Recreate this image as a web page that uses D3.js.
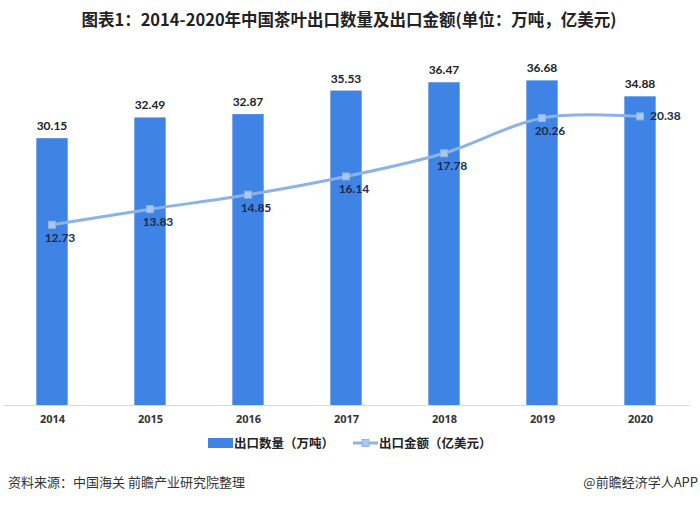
<!DOCTYPE html>
<html lang="zh">
<head>
    <meta charset="UTF-8">
    <title>中国茶叶出口数量及出口金额</title>
    <script src="https://d3js.org/d3.v7.min.js"></script>
    <style>
        body {
            margin: 0;
            background: #fff;
            font-family: "Noto Sans CJK SC", "Noto Sans", sans-serif;
        }
    </style>
</head>
<body>
    <div id="chart"></div>
    <script>
        const years = ["2014", "2015", "2016", "2017", "2018", "2019", "2020"];
        const volume = [30.15, 32.49, 32.87, 35.53, 36.47, 36.68, 34.88];   // 万吨
        const amount = [12.73, 13.83, 14.85, 16.14, 17.78, 20.26, 20.38];   // 亿美元
        const seriesNames = ["出口数量（万吨）", "出口金额（亿美元）"];

        const width = 700;
        const height = 505;
        const plot = { left: 3, right: 689, top: 51, bottom: 405 };

        const svg = d3.select("#chart")
            .append("svg")
            .attr("width", width)
            .attr("height", height);

        // title
        svg.append("text")
            .attr("x", 349)
            .attr("y", 26)
            .attr("text-anchor", "middle")
            .attr("font-size", 16.5)
            .attr("font-weight", "bold")
            .attr("fill", "#222")
            .text("图表1：2014-2020年中国茶叶出口数量及出口金额(单位：万吨，亿美元)");

        const x = d3.scalePoint()
            .domain(years)
            .range([plot.left, plot.right])
            .padding(0.5);

        const y1 = d3.scaleLinear().domain([0, 40]).range([plot.bottom, plot.top]);
        const y2 = d3.scaleLinear().domain([0, 25]).range([plot.bottom, plot.top]);

        const barW = x.step() * 0.32;

        // bars
        svg.selectAll("rect.bar")
            .data(volume)
            .enter()
            .append("rect")
            .attr("class", "bar")
            .attr("x", (d, i) => x(years[i]) - barW / 2)
            .attr("y", d => y1(d))
            .attr("width", barW)
            .attr("height", d => y1(0) - y1(d))
            .attr("fill", "#3f84e4");

        svg.selectAll("text.barlabel")
            .data(volume)
            .enter()
            .append("text")
            .attr("class", "barlabel")
            .attr("x", (d, i) => x(years[i]))
            .attr("y", d => y1(d) - 8)
            .attr("text-anchor", "middle")
            .attr("font-size", 12)
            .attr("font-weight", "bold")
            .attr("fill", "#222")
            .attr("font-family", "Lato, 'Noto Sans', sans-serif")
            .text(d => d.toFixed(2));

        // x axis
        const xAxis = svg.append("g")
            .attr("transform", `translate(0, ${plot.bottom})`)
            .call(d3.axisBottom(x).tickSize(0).tickPadding(10));
        xAxis.select(".domain").attr("stroke", "#d9d9d9").attr("stroke-width", 1.2);
        xAxis.selectAll("text")
            .attr("font-size", 11)
            .attr("font-weight", "bold")
            .attr("fill", "#333")
            .attr("font-family", "'Liberation Sans Narrow', 'Noto Sans', sans-serif");

        // line
        const line = d3.line()
            .x((d, i) => x(years[i]))
            .y(d => y2(d))
            .curve(d3.curveCardinal.tension(0));

        svg.append("path")
            .datum(amount)
            .attr("d", line)
            .attr("fill", "none")
            .attr("stroke", "#8db3e6")
            .attr("stroke-width", 3);

        svg.selectAll("rect.marker")
            .data(amount)
            .enter()
            .append("rect")
            .attr("class", "marker")
            .attr("x", (d, i) => x(years[i]) - 3.5)
            .attr("y", d => y2(d) - 3.5)
            .attr("width", 7)
            .attr("height", 7)
            .attr("fill", "#a9c8f0")
            .attr("stroke", "#8db3e6")
            .attr("stroke-width", 1);

        svg.selectAll("text.linelabel")
            .data(amount)
            .enter()
            .append("text")
            .attr("class", "linelabel")
            .attr("x", (d, i) => i === amount.length - 1 ? x(years[i]) + 10 : x(years[i]) + 8)
            .attr("y", (d, i) => i === amount.length - 1 ? y2(d) + 4 : y2(d) + 17)
            .attr("text-anchor", (d, i) => i === amount.length - 1 ? "start" : "middle")
            .attr("font-size", 12)
            .attr("font-weight", "bold")
            .attr("fill", "#1c2b4a")
            .attr("font-family", "Lato, 'Noto Sans', sans-serif")
            .text(d => d.toFixed(2));

        // legend
        const legend = svg.append("g").attr("transform", "translate(0, 443)");
        legend.append("rect")
            .attr("x", 208).attr("y", -5)
            .attr("width", 25).attr("height", 10)
            .attr("fill", "#3f84e4");
        legend.append("text")
            .attr("x", 234).attr("y", 5)
            .attr("font-size", 12.5)
            .attr("font-weight", "bold")
            .attr("fill", "#222")
            .text(seriesNames[0]);
        legend.append("line")
            .attr("x1", 353).attr("x2", 378)
            .attr("y1", 0).attr("y2", 0)
            .attr("stroke", "#8db3e6")
            .attr("stroke-width", 3);
        legend.append("rect")
            .attr("x", 362).attr("y", -3.5)
            .attr("width", 7).attr("height", 7)
            .attr("fill", "#a9c8f0")
            .attr("stroke", "#8db3e6");
        legend.append("text")
            .attr("x", 379).attr("y", 5)
            .attr("font-size", 12.5)
            .attr("font-weight", "bold")
            .attr("fill", "#222")
            .text(seriesNames[1]);

        // footer
        svg.append("text")
            .attr("x", 8).attr("y", 487)
            .attr("font-size", 13)
            .attr("fill", "#333")
            .text("资料来源：中国海关 前瞻产业研究院整理");
        svg.append("text")
            .attr("x", 698).attr("y", 487)
            .attr("text-anchor", "end")
            .attr("font-size", 13)
            .attr("fill", "#333")
            .text("@前瞻经济学人APP");
    </script>
</body>
</html>
